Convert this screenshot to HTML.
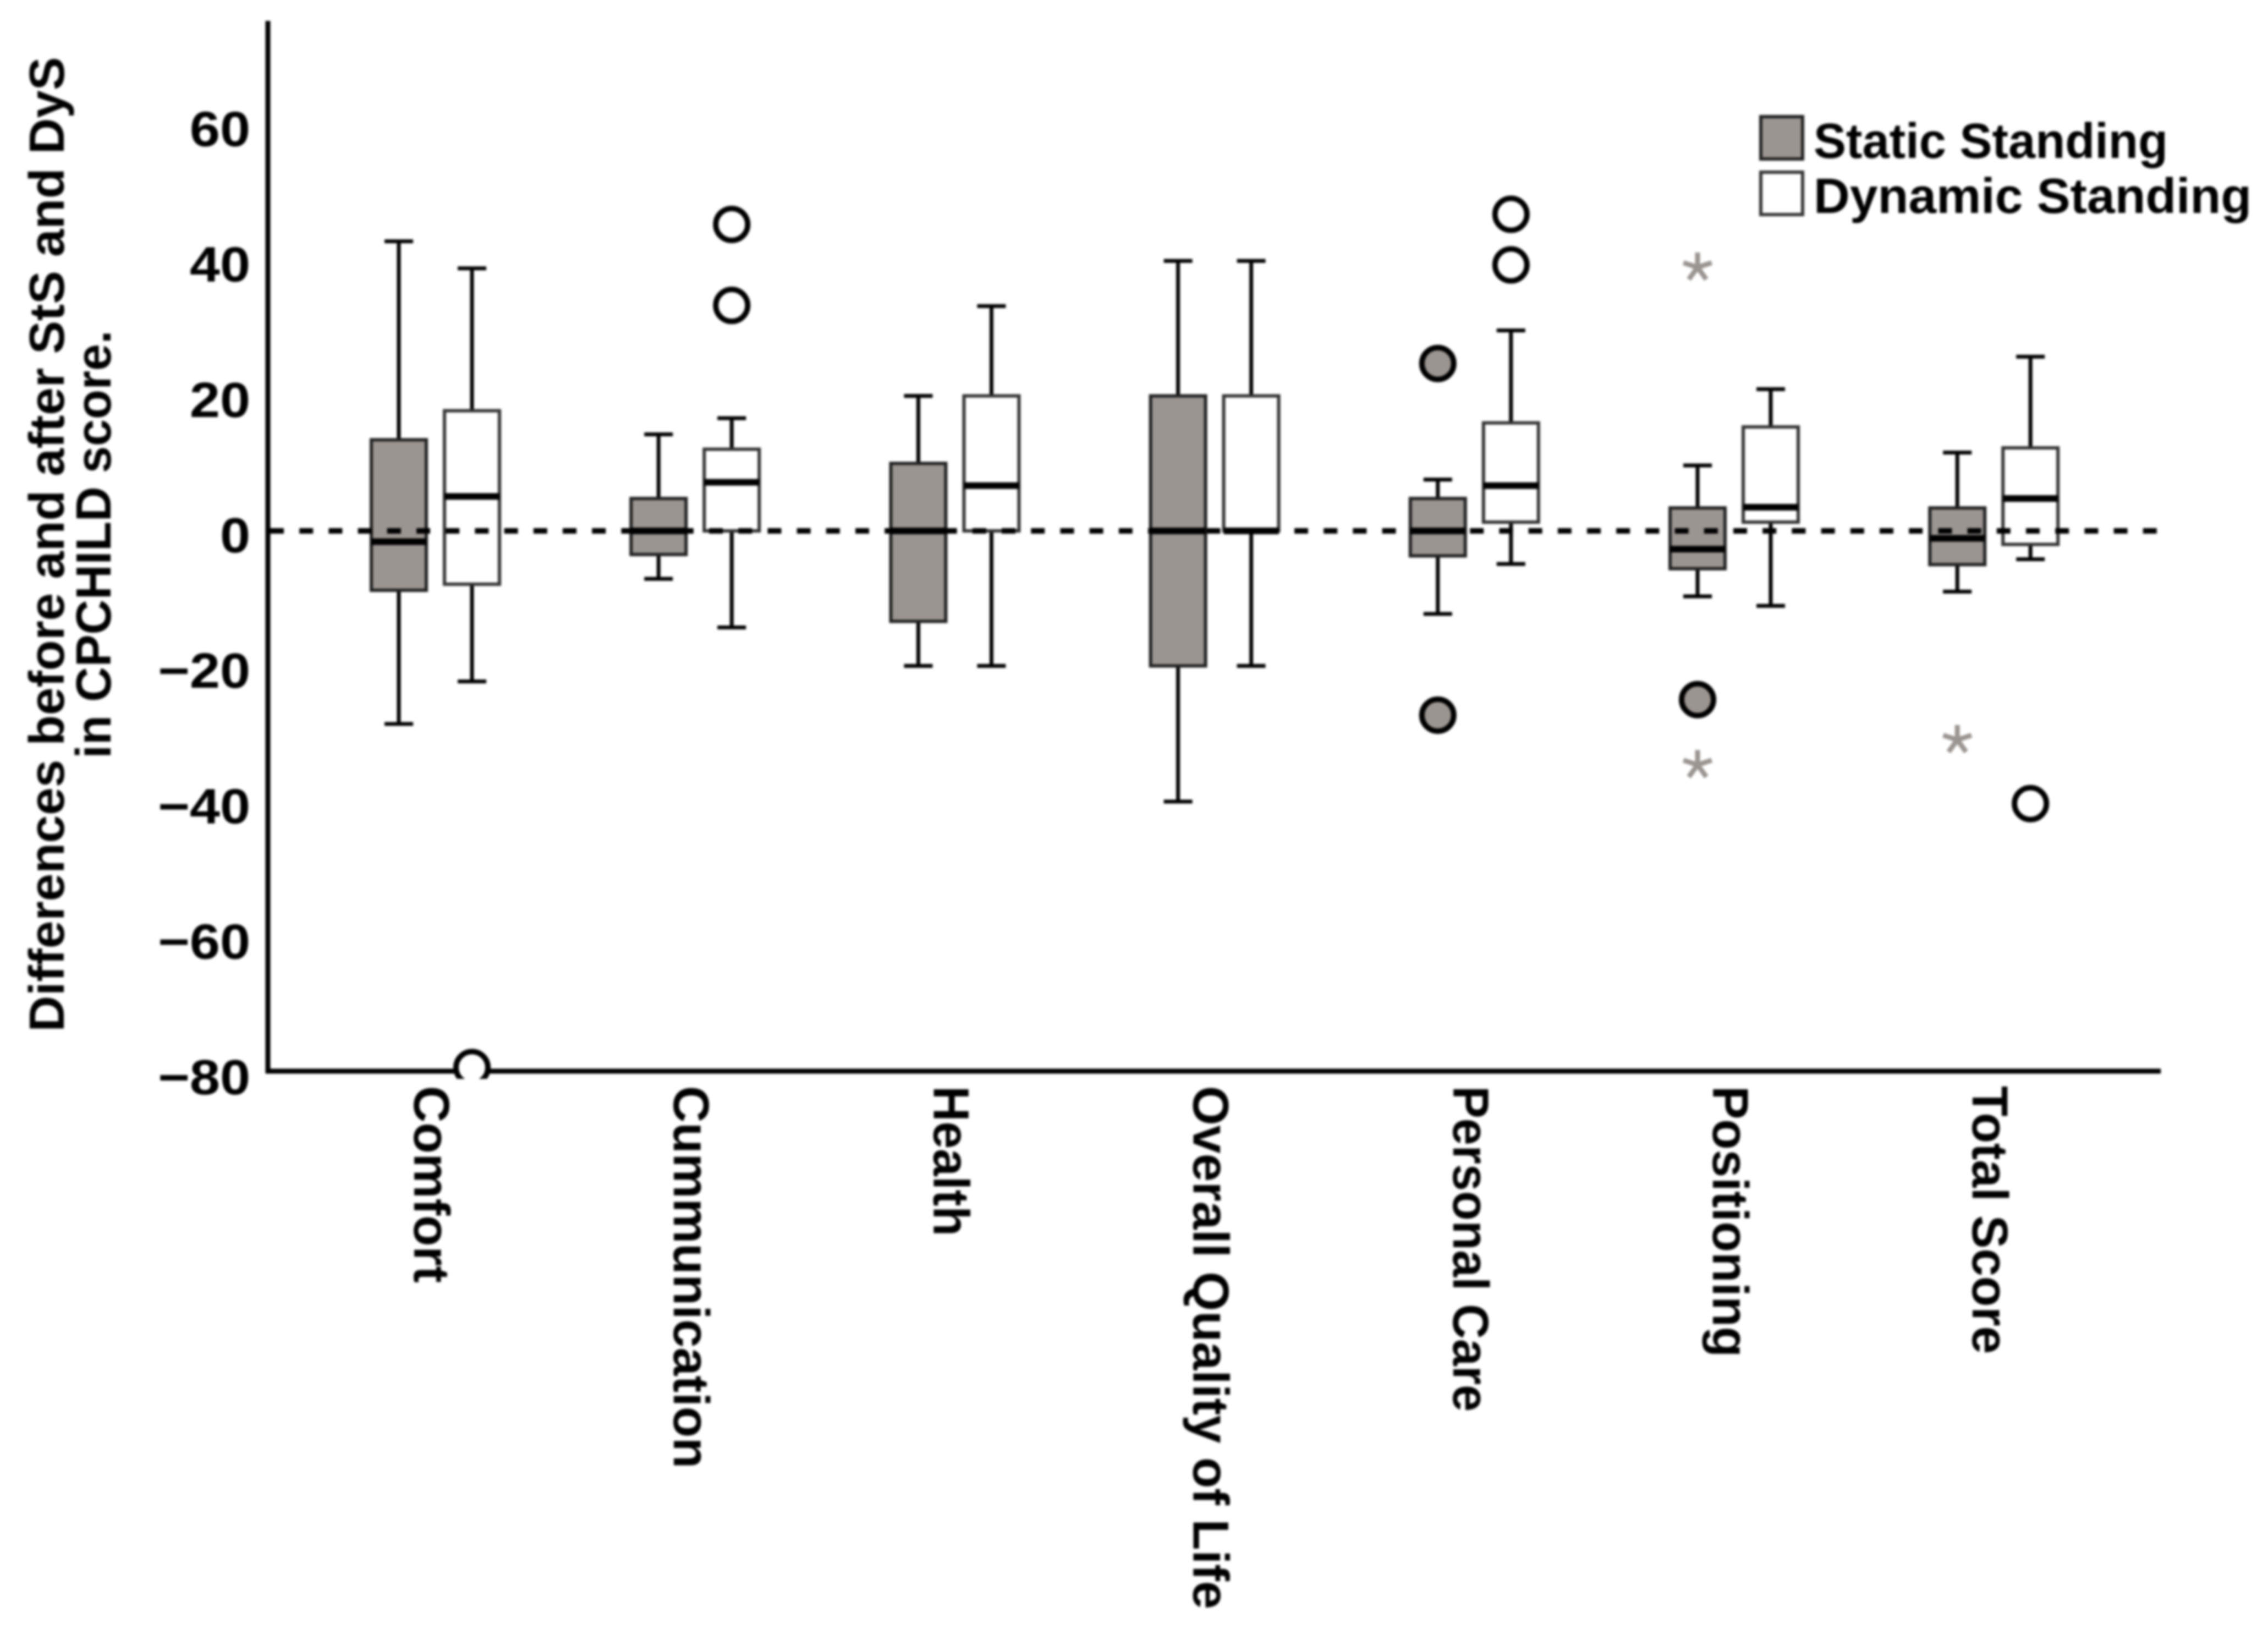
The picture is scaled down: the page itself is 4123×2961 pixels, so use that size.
<!DOCTYPE html>
<html lang="en">
<head>
<meta charset="utf-8">
<title>Differences before and after StS and DyS in CPCHILD score</title>
<style>
html,body{margin:0;padding:0;background:#fff;width:4123px;height:2961px;overflow:hidden}
svg{display:block;filter:blur(2.2px)}
text{font-family:"Liberation Sans",sans-serif;font-weight:bold;fill:#000}
</style>
</head>
<body>
<svg id="chart" xmlns="http://www.w3.org/2000/svg" width="4123" height="2961" viewBox="0 0 4123 2961">
<rect x="0" y="0" width="4123" height="2961" fill="#fff"/>
<defs><clipPath id="plot-clip"><rect x="0" y="0" width="4123" height="1961"/></clipPath></defs>
<g id="reference-layer"></g>
<line x1="487" y1="38" x2="487" y2="1951" stroke="#000" stroke-width="9"/>
<line x1="483" y1="1947" x2="3928" y2="1947" stroke="#000" stroke-width="9"/>
<g id="over-layer"></g>
<g id="tick-layer"></g>
<g id="cat-layer"></g>
<text transform="translate(116,989.5) rotate(-90)" text-anchor="middle" font-size="90" textLength="1772" lengthAdjust="spacingAndGlyphs">Differences before and after StS and DyS</text>
<text transform="translate(201,989.5) rotate(-90)" text-anchor="middle" font-size="90" textLength="778" lengthAdjust="spacingAndGlyphs">in CPCHILD score.</text>
<g>
<rect x="3201" y="212" width="76" height="77" fill="#9b9591" stroke="#222" stroke-width="6"/>
<text x="3297" y="287" font-size="90" textLength="644" lengthAdjust="spacingAndGlyphs">Static Standing</text>
<rect x="3201" y="313" width="76" height="77" fill="#fff" stroke="#333" stroke-width="6"/>
<text x="3297" y="387" font-size="90" textLength="796" lengthAdjust="spacingAndGlyphs">Dynamic Standing</text>
</g>
</svg>
<script>
const categories = ["Comfort","Cummunication","Health","Overall Quality of Life","Personal Care","Positioning","Total Score"];
const yTicks = [60,40,20,0,-20,-40,-60,-80];
const referenceValue = 0;

const staticWhiskerHigh = [42.9,14.3,20,40,7.6,9.7,11.6];
const staticQ3 = [13.5,4.8,10,20,4.8,3.4,3.4];
const staticMedian = [-1.6,0,0,0,0,-2.7,-1.1];
const staticQ1 = [-8.8,-3.5,-13.4,-20,-3.7,-5.6,-5];
const staticWhiskerLow = [-28.6,-7.1,-20,-40.1,-12.3,-9.7,-9];

const dynamicWhiskerHigh = [38.9,16.7,33.3,40,29.7,21,25.8];
const dynamicQ3 = [17.8,12.1,20,20,16,15.4,12.3];
const dynamicMedian = [5.1,7.2,6.7,0,6.7,3.5,4.8];
const dynamicQ1 = [-7.9,0,0,0,1.3,1.3,-2];
const dynamicWhiskerLow = [-22.3,-14.3,-20,-20,-4.9,-11.1,-4.2];

const staticOutliers = [[],[],[],[],[24.8,-27.3],[-25],[]];
const staticExtremes = [[],[],[],[],[],[38.8,-34.9],[-31.2]];
const dynamicOutliers = [[-79.5],[45.4,33.4],[],[],[46.9,39.4],[],[-40.4]];

const NS = "http://www.w3.org/2000/svg";
const GREY = "#9b9591";
const boxLayer = document.getElementById("reference-layer");
const overLayer = document.getElementById("over-layer");
const tickLayer = document.getElementById("tick-layer");
const catLayer = document.getElementById("cat-layer");

function yScale(v){ return 965 - v * 12.27; }
function tickBaseline(v){ return 1004 - v * 12.31; }
function xStatic(i){ return 725 + i * 472.2; }
function xDynamic(i){ return xStatic(i) + 133; }

function labelWidth(name){
  switch (name) {
    case "Health": return 273;
    case "Personal Care": return 592;
    case "Positioning": return 493;
    case "Total Score": return 487;
    default: return 0;
  }
}

function make(tag, attrs, parent){
  const el = document.createElementNS(NS, tag);
  for (const k in attrs) el.setAttribute(k, attrs[k]);
  parent.appendChild(el);
  return el;
}
function slug(s){ return s.toLowerCase().replace(/[^a-z]+/g, "-"); }

function drawBox(cx, hi, q3, med, q1, lo, fill, stroke, label){
  const halfBox = 50, halfCap = 26;
  const group = make("g", {}, boxLayer);
  
  

  const upper = make("line", {x1:cx, x2:cx, y1:yScale(hi), y2:yScale(q3), stroke:"#000", "stroke-width":7}, group);
  
  
  const lower = make("line", {x1:cx, x2:cx, y1:yScale(q1), y2:yScale(lo), stroke:"#000", "stroke-width":7}, group);
  
  
  const capHi = make("line", {x1:cx-halfCap, x2:cx+halfCap, y1:yScale(hi), y2:yScale(hi), stroke:"#000", "stroke-width":7}, group);
  
  
  const capLo = make("line", {x1:cx-halfCap, x2:cx+halfCap, y1:yScale(lo), y2:yScale(lo), stroke:"#000", "stroke-width":7}, group);
  
  
  const rect = make("rect", {x:cx-halfBox, y:yScale(q3), width:halfBox*2, height:yScale(q1)-yScale(q3), fill:fill, stroke:stroke, "stroke-width":6}, group);
  
  

  const median = make("line", {x1:cx-halfBox, x2:cx+halfBox, y1:yScale(med), y2:yScale(med), stroke:"#000", "stroke-width":12}, overLayer);
  
  
}

function drawCircle(cx, v, fill, label, layer, clipped){
  const attrs = {cx:cx, cy:yScale(v), r:29, fill:fill, stroke:"#000", "stroke-width":10};
  if (clipped) attrs["clip-path"] = "url(#plot-clip)";
  const c = make("circle", attrs, layer);
  
  
}

function drawStar(cx, v, label, layer){
  const cy = yScale(v) - 3, r = 27;
  let d = "";
  for (let a = 0; a < 5; a++){
    const t = -Math.PI/2 + a * 2 * Math.PI / 5;
    d += "M" + cx + " " + cy + "L" + (cx + r*Math.cos(t)) + " " + (cy + r*Math.sin(t));
  }
  const s = make("path", {d:d, fill:"none", stroke:GREY, "stroke-width":9}, layer);
  
  
}

categories.forEach(function(cat, i){
  const key = slug(cat);
  drawBox(xStatic(i), staticWhiskerHigh[i], staticQ3[i], staticMedian[i], staticQ1[i], staticWhiskerLow[i], GREY, "#222", key + "-static");
  drawBox(xDynamic(i), dynamicWhiskerHigh[i], dynamicQ3[i], dynamicMedian[i], dynamicQ1[i], dynamicWhiskerLow[i], "#fff", "#333", key + "-dynamic");
});

const refLine = make("line", {x1:491, x2:3924, y1:yScale(referenceValue), y2:yScale(referenceValue), stroke:"#000", "stroke-width":10, "stroke-dasharray":"25 28.2"}, overLayer);



categories.forEach(function(cat, i){
  const key = slug(cat);
  staticOutliers[i].forEach(function(v){ drawCircle(xStatic(i), v, GREY, key + "-static", overLayer, false); });
  staticExtremes[i].forEach(function(v){ drawStar(xStatic(i), v, key + "-static", overLayer); });
  dynamicOutliers[i].forEach(function(v){ drawCircle(xDynamic(i), v, "#fff", key + "-dynamic", overLayer, v < -75); });

  const label = make("text", {transform:"translate(" + (xStatic(i) + 28) + ",1974) rotate(90)", "font-size":92}, catLayer);
  label.textContent = cat;
  const w = labelWidth(cat);
  if (w) {
    label.setAttribute("textLength", w);
    label.setAttribute("lengthAdjust", "spacingAndGlyphs");
  }
  
  
});

yTicks.forEach(function(v){
  const t = make("text", {transform:"translate(455," + tickBaseline(v) + ") scale(1.1,1)", "text-anchor":"end", "font-size":90}, tickLayer);
  t.textContent = v < 0 ? "\u2212" + Math.abs(v) : String(v);
  
  
});
</script>
</body>
</html>
